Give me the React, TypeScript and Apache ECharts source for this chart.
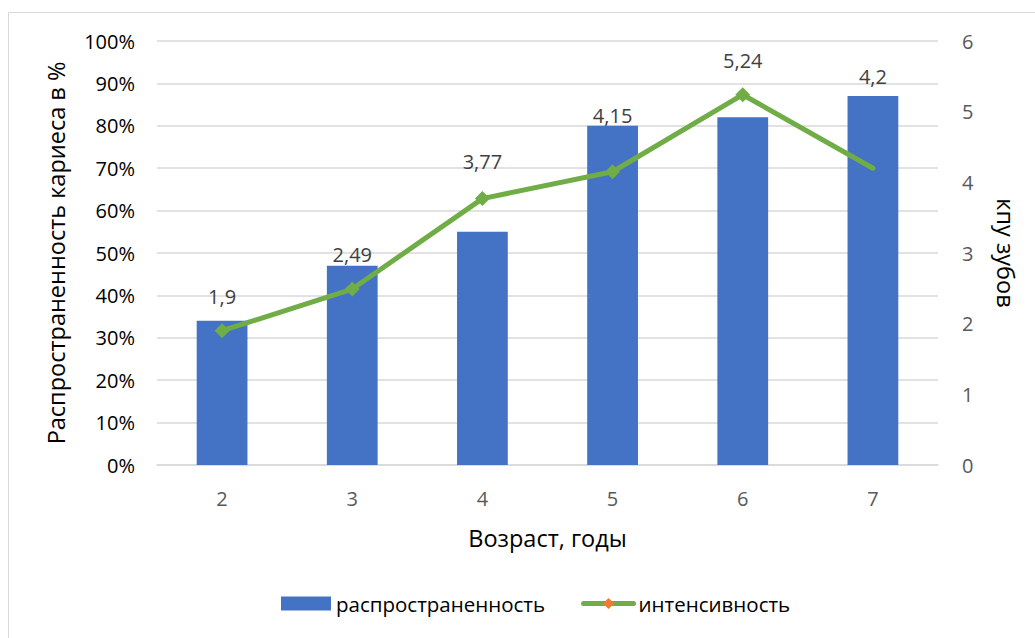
import React, { useEffect, useRef } from "react";
import * as echarts from "echarts";

const categories = ["2", "3", "4", "5", "6", "7"];
const prevalence = [34, 47, 55, 80, 82, 87];
const intensity = [1.9, 2.49, 3.77, 4.15, 5.24, 4.2];
const leftTicks = { min: 0, max: 100, interval: 10 };
const rightTicks = { min: 0, max: 6, interval: 1 };
const barName = "распространенность";
const lineName = "интенсивность";

// label placement tweaks (style, not data)
const labelOffsetY = [0, 0, -3, -22, 0, -57];

const FONT = "'Open Sans', 'Noto Sans', sans-serif";

export default function App() {
  const ref = useRef<HTMLDivElement>(null);
  useEffect(() => {
    const chart = echarts.init(ref.current!, null, { renderer: "svg" });
    const last = intensity.length - 1;
    const lineData = intensity.map((v, i) => ({
      value: v,
      itemStyle: i === last ? { color: "rgba(0,0,0,0)" } : undefined,
      label: { offset: [0, labelOffsetY[i]] },
    }));
    chart.setOption({
      animation: false,
      textStyle: { fontFamily: FONT },
      graphic: [
        {
          type: "rect",
          shape: { x: 8.5, y: 12.5, width: 1040, height: 640 },
          style: { fill: "none", stroke: "#d9d9d9", lineWidth: 1 },
          silent: true,
        },
      ],
      grid: { left: 157, right: 97, top: 41, bottom: 173 },
      legend: {
        bottom: 19,
        left: 276,
        itemWidth: 50,
        itemHeight: 14,
        itemGap: 36,
        textStyle: { fontSize: 20.5, color: "#000", fontFamily: FONT },
        data: [
          { name: barName, icon: "rect" },
          { name: lineName, itemStyle: { color: "#ed7d31" }, lineStyle: { width: 5, color: "#70ad47" } },
        ],
      },
      xAxis: {
        type: "category",
        data: categories,
        name: "Возраст, годы",
        nameLocation: "middle",
        nameGap: 61,
        nameTextStyle: { fontSize: 23.5, color: "#000", fontFamily: FONT },
        axisLine: { lineStyle: { color: "#d9d9d9", width: 1.5 } },
        axisTick: { show: false },
        axisLabel: { fontSize: 20, color: "#595959", margin: 23, fontFamily: FONT },
      },
      yAxis: [
        {
          type: "value",
          ...leftTicks,
          name: "Распространенность кариеса в %",
          nameLocation: "middle",
          nameRotate: 90,
          nameGap: 89,
          nameTextStyle: { fontSize: 23.5, color: "#000", fontFamily: FONT },
          axisLabel: {
            fontSize: 20,
            color: "#000",
            margin: 22,
            formatter: "{value}%",
            fontFamily: FONT,
          },
          axisLine: { show: false },
          axisTick: { show: false },
          splitLine: { lineStyle: { color: "#d9d9d9", width: 1.5 } },
        },
        {
          type: "value",
          ...rightTicks,
          position: "right",
          name: "кпу зубов",
          nameLocation: "middle",
          nameRotate: -90,
          nameGap: 56,
          nameTextStyle: { fontSize: 23.5, color: "#000", fontFamily: FONT },
          axisLabel: { fontSize: 20, color: "#595959", margin: 24, fontFamily: FONT },
          axisLine: { show: false },
          axisTick: { show: false },
          splitLine: { show: false },
        },
      ],
      series: [
        {
          name: barName,
          type: "bar",
          data: prevalence,
          barWidth: "39%",
          itemStyle: { color: "#4472c4" },
        },
        {
          name: lineName,
          type: "line",
          yAxisIndex: 1,
          data: lineData,
          symbol: "diamond",
          symbolSize: 15,
          lineStyle: { color: "#70ad47", width: 5, cap: "round" },
          itemStyle: { color: "#70ad47" },
          label: {
            show: true,
            position: "top",
            distance: 17,
            fontSize: 20,
            color: "#404040",
            fontFamily: FONT,
            formatter: (p: any) => String(p.value).replace(".", ","),
          },
        },
      ],
    });
    return () => chart.dispose();
  }, []);
  return (
    <div
      ref={ref}
      style={{ position: "fixed", left: 0, top: 0, width: 1035, height: 638, background: "#fff" }}
    />
  );
}
